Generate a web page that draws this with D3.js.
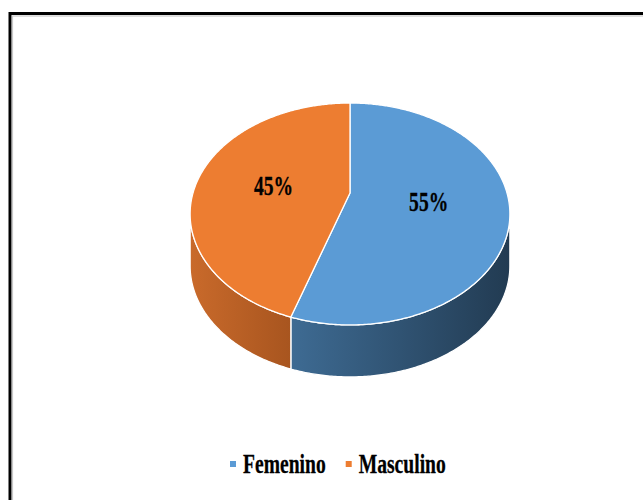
<!DOCTYPE html>
<html>
<head>
<meta charset="utf-8">
<script src="https://cdn.jsdelivr.net/npm/d3@7"></script>
<style>
  html, body { margin: 0; padding: 0; background: #fff; }
  svg { display: block; }
</style>
</head>
<body>
<div id="container"></div>
<script>
"use strict";

const width = 643;
const height = 500;

// chart data
const categories = ["Femenino", "Masculino"];
const values = [55, 45];
const labels = ["55%", "45%"];
const topColors = ["#5b9bd5", "#ed7d31"];
const sideColors = [["#3e6b93", "#223b52"], ["#c96a2b", "#a8551f"]];

// geometry of the tilted disc (simple perspective)
const cx = 350, cy = 193;
const A = 157, B = 107, k = 0.189;
const depth = 52;

// text is drawn horizontally condensed like the original
const textScale = 0.7;
const fontSize = 28;

function proj(t, r, dz) {
    // t is a d3.pie angle: 0 at 12 o'clock, clockwise
    let u = r * Math.sin(t);
    let v = -r * Math.cos(t);
    let w = 1 - k * v;
    return [cx + A * u / w, cy + B * v / w + (dz || 0)];
}

function arcPoints(a0, a1, dz) {
    let n = Math.max(2, Math.ceil(Math.abs(a1 - a0) / 0.01));
    return d3.range(n + 1).map(i => proj(a0 + (a1 - a0) * i / n, 1, dz));
}

const line = d3.line();

const svg = d3.select("#container").append("svg")
    .attr("width", width)
    .attr("height", height);

const defs = svg.append("defs");

// frame
svg.append("rect")
    .attr("x", 10).attr("y", 13.5)
    .attr("width", width).attr("height", height)
    .attr("fill", "none").attr("stroke", "#000").attr("stroke-width", 3);
svg.append("rect")
    .attr("x", 12.5).attr("y", 16)
    .attr("width", width).attr("height", height)
    .attr("fill", "none").attr("stroke", "#c8c8c8").attr("stroke-width", 1.2);

const pie = d3.pie().sort(null).value(d => d)(values);

// the side is visible between the two silhouette points
const sideStart = Math.PI / 2 + Math.asin(k);
const sideEnd = 3 * Math.PI / 2 - Math.asin(k);

const g = svg.append("g");

// sides first
pie.forEach((d, i) => {
    let a0 = Math.max(d.startAngle, sideStart);
    let a1 = Math.min(d.endAngle, sideEnd);
    if (a1 <= a0) return;
    let topEdge = arcPoints(a0, a1, 0);
    let bottomEdge = arcPoints(a1, a0, depth);
    let xs = topEdge.map(p => p[0]);
    let gid = "side" + i;
    let grad = defs.append("linearGradient")
        .attr("id", gid)
        .attr("gradientUnits", "userSpaceOnUse")
        .attr("x1", d3.min(xs)).attr("x2", d3.max(xs))
        .attr("y1", 0).attr("y2", 0);
    grad.append("stop").attr("offset", "0%").attr("stop-color", sideColors[i][0]);
    grad.append("stop").attr("offset", "100%").attr("stop-color", sideColors[i][1]);
    g.append("path")
        .attr("d", line(topEdge.concat(bottomEdge)) + "Z")
        .attr("fill", "url(#" + gid + ")")
        .attr("stroke", "#fff")
        .attr("stroke-width", 1.3)
        .attr("stroke-linejoin", "round");
});

// top faces
pie.forEach((d, i) => {
    let pts = [proj(0, 0)].concat(arcPoints(d.startAngle, d.endAngle, 0));
    g.append("path")
        .attr("d", line(pts) + "Z")
        .attr("fill", topColors[i])
        .attr("stroke", "#fff")
        .attr("stroke-width", 1.3)
        .attr("stroke-linejoin", "round");
});

// data labels
pie.forEach((d, i) => {
    let mid = (d.startAngle + d.endAngle) / 2;
    let p = proj(mid, 0.5);
    g.append("text")
        .attr("transform", "translate(" + p[0] + "," + (p[1] + 10) + ") scale(" + textScale + ",1)")
        .attr("text-anchor", "middle")
        .attr("font-family", "'Liberation Serif', 'Times New Roman', serif")
        .attr("font-weight", "bold")
        .attr("font-size", fontSize)
        .attr("fill", "#000")
        .attr("stroke", "#000")
        .attr("stroke-width", 0.3)
        .text(labels[i]);
});

// legend
const legend = svg.append("g");
let lx = 230;
const ly = 473;
categories.forEach((c, i) => {
    legend.append("rect")
        .attr("x", lx).attr("y", ly - 12)
        .attr("width", 6).attr("height", 6)
        .attr("fill", topColors[i]);
    let t = legend.append("text")
        .attr("transform", "translate(" + (lx + 13) + "," + ly + ") scale(" + textScale + ",1)")
        .attr("font-family", "'Liberation Serif', 'Times New Roman', serif")
        .attr("font-weight", "bold")
        .attr("font-size", fontSize)
        .attr("fill", "#000")
        .attr("stroke", "#000")
        .attr("stroke-width", 0.3)
        .text(c);
    let w = t.node().getComputedTextLength() * textScale;
    lx += 13 + w + 20;
});
</script>
</body>
</html>
